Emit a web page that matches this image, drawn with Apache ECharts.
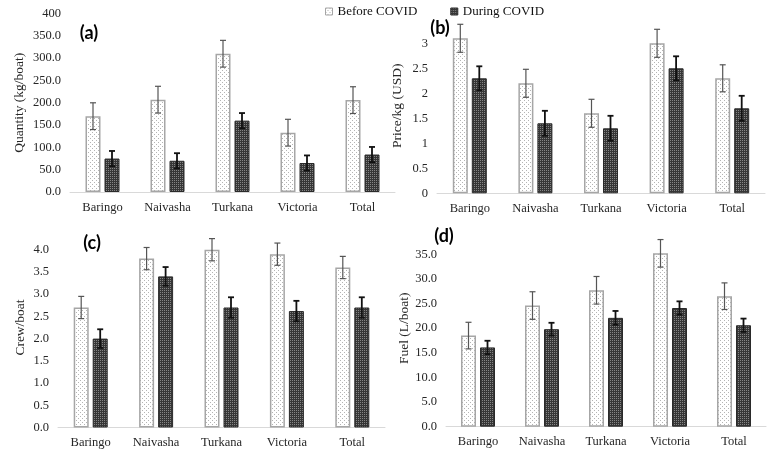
<!DOCTYPE html>
<html>
<head>
<meta charset="utf-8">
<script src="https://cdn.jsdelivr.net/npm/echarts@6/dist/echarts.min.js"></script>
<style>
html,body{margin:0;padding:0;background:#fff;}
#chart{width:772px;height:450px;}
</style>
</head>
<body>
<div id="chart"></div>
<script>
// ---- data ----
const categories = ['Baringo', 'Naivasha', 'Turkana', 'Victoria', 'Total'];
const seriesNames = ['Before COVID', 'During COVID'];

const quantityBefore = [170, 207, 310, 133, 206];
const quantityBeforeErr = [30, 30, 30, 30, 30];
const quantityDuring = [75, 70, 160, 65, 84];
const quantityDuringErr = [17, 17, 17, 17, 17];

const priceBefore = [3.1, 2.2, 1.6, 3.0, 2.3];
const priceBeforeErr = [0.28, 0.28, 0.28, 0.28, 0.27];
const priceDuring = [2.3, 1.4, 1.3, 2.5, 1.7];
const priceDuringErr = [0.24, 0.25, 0.25, 0.24, 0.25];

const crewBefore = [2.7, 3.8, 4.0, 3.9, 3.6];
const crewBeforeErr = [0.25, 0.25, 0.25, 0.25, 0.25];
const crewDuring = [2.0, 3.4, 2.7, 2.62, 2.7];
const crewDuringErr = [0.21, 0.21, 0.23, 0.23, 0.23];

const fuelBefore = [18.5, 24.6, 27.7, 35.2, 26.5];
const fuelBeforeErr = [2.7, 2.8, 2.8, 2.8, 2.7];
const fuelDuring = [16.1, 19.8, 22.1, 24.1, 20.6];
const fuelDuringErr = [1.35, 1.3, 1.4, 1.35, 1.35];

const panelLabels = ['(a)', '(b)', '(c)', '(d)'];
const axisTitles = ['Quantity (kg/boat)', 'Price/kg (USD)', 'Crew/boat', 'Fuel (L/boat)'];

// ---- patterns ----
function makePattern(size, bg, dots) {
  const c = document.createElement('canvas');
  c.width = size; c.height = size;
  const ctx = c.getContext('2d');
  ctx.fillStyle = bg; ctx.fillRect(0, 0, size, size);
  dots.forEach(d => { ctx.fillStyle = d[2]; ctx.fillRect(d[0], d[1], 1, 1); });
  return c;
}
const beforeFill = { image: makePattern(4, '#ffffff', [[0, 0, '#b4b4b4'], [2, 2, '#b4b4b4']]), repeat: 'repeat' };
const duringFill = { image: makePattern(2, '#363636', [[0, 0, '#858585']]), repeat: 'repeat' };

const FONT = 'Liberation Serif';
const TXT = '#262626';
const BAR_W = 15, GAP = 4;
const OFF = (BAR_W + GAP) / 2;

const grids = [
  { left: 70, top: 13.6, width: 325, height: 178.4 },
  { left: 437, top: 18.3, width: 328, height: 175 },
  { left: 58, top: 227.5, width: 327, height: 200 },
  { left: 446, top: 229.7, width: 320, height: 197 }
];
const yCfg = [
  { max: 400, interval: 50, fmt: v => v === 400 ? '400' : v.toFixed(1), showMax: true },
  { max: 3.5, interval: 0.5, fmt: v => String(v), showMax: false },
  { max: 4.5, interval: 0.5, fmt: v => v.toFixed(1), showMax: false },
  { max: 40, interval: 5, fmt: v => v.toFixed(1), showMax: false }
];
const panelData = [
  [quantityBefore, quantityBeforeErr, quantityDuring, quantityDuringErr],
  [priceBefore, priceBeforeErr, priceDuring, priceDuringErr],
  [crewBefore, crewBeforeErr, crewDuring, crewDuringErr],
  [fuelBefore, fuelBeforeErr, fuelDuring, fuelDuringErr]
];
const labelPos = [[89, 33], [440, 28], [92, 243], [444, 236]];

function errSeries(i, vals, errs, offset, color, lw) {
  return {
    type: 'custom', name: 'err' + i + offset, xAxisIndex: i, yAxisIndex: i, z: 5,
    data: vals.map((v, k) => [k, v, errs[k]]),
    encode: { x: 0, y: 1 },
    renderItem: function (params, api) {
      const k = api.value(0), v = api.value(1), e = api.value(2);
      const t = api.coord([k, v + e]);
      const b = api.coord([k, v - e]);
      const x = t[0] + offset;
      const st = { stroke: color, lineWidth: lw };
      return {
        type: 'group', children: [
          { type: 'line', shape: { x1: x, y1: t[1], x2: x, y2: b[1] }, style: st },
          { type: 'line', shape: { x1: x - 3, y1: t[1], x2: x + 3, y2: t[1] }, style: st },
          { type: 'line', shape: { x1: x - 3, y1: b[1], x2: x + 3, y2: b[1] }, style: st }
        ]
      };
    }
  };
}

const xAxis = [], yAxis = [], series = [], graphic = [];
grids.forEach((g, i) => {
  xAxis.push({
    gridIndex: i, type: 'category', data: categories,
    axisLine: { lineStyle: { color: '#d9d9d9', width: 1 } },
    axisTick: { show: false },
    axisLabel: { fontFamily: FONT, fontSize: 12.5, color: TXT, margin: 9, interval: 0 }
  });
  yAxis.push({
    gridIndex: i, type: 'value', min: 0, max: yCfg[i].max, interval: yCfg[i].interval,
    splitLine: { show: false }, axisLine: { show: false }, axisTick: { show: false },
    axisLabel: { fontFamily: FONT, fontSize: 12.5, color: TXT, margin: 9, formatter: yCfg[i].fmt, showMaxLabel: yCfg[i].showMax },
    name: axisTitles[i], nameLocation: 'middle', nameGap: i === 2 ? 31 : (i === 0 ? 44 : 33),
    nameTextStyle: { fontFamily: FONT, fontSize: 13.5, color: TXT }
  });
  const d = panelData[i];
  series.push({
    type: 'bar', name: seriesNames[0], xAxisIndex: i, yAxisIndex: i, data: d[0],
    barWidth: BAR_W, barGap: (GAP / BAR_W * 100) + '%',
    itemStyle: { color: beforeFill, borderColor: '#a6a6a6', borderWidth: 1.5 }
  });
  series.push({
    type: 'bar', name: seriesNames[1], xAxisIndex: i, yAxisIndex: i, data: d[2],
    barWidth: BAR_W, barGap: (GAP / BAR_W * 100) + '%',
    itemStyle: { color: duringFill, borderColor: '#2a2a2a', borderWidth: 1 }
  });
  series.push(errSeries(i, d[0], d[1], -OFF, '#555555', 1.2));
  series.push(errSeries(i, d[2], d[3], OFF, '#111111', 1.8));
  graphic.push({
    type: 'text', x: labelPos[i][0], y: labelPos[i][1],
    style: { text: panelLabels[i], font: 'bold 18px Lato', fill: '#000', textAlign: 'center', textVerticalAlign: 'middle' }
  });
});

const chart = echarts.init(document.getElementById('chart'), null, { renderer: 'canvas' });
chart.setOption({
  animation: false,
  backgroundColor: '#ffffff',
  grid: grids.map(g => Object.assign({ containLabel: false }, g)),
  xAxis: xAxis, yAxis: yAxis, series: series, graphic: graphic,
  legend: {
    data: seriesNames, left: 320, top: 0, itemWidth: 7, itemHeight: 7, itemGap: 33, icon: 'rect',
    textStyle: { fontFamily: FONT, fontSize: 13, color: '#111' },
    itemStyle: { borderWidth: 1 }
  }
});
</script>
</body>
</html>
